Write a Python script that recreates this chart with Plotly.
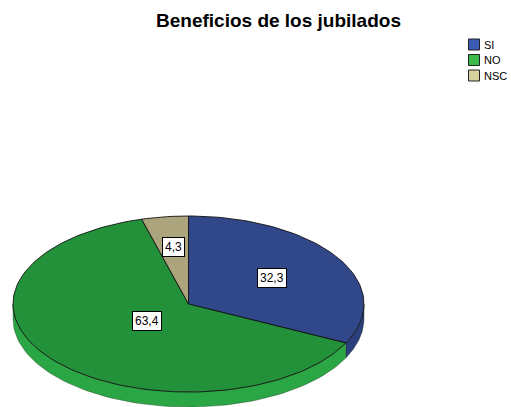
import numpy as np
import plotly.graph_objects as go

# ---- data ----
categories = ["SI", "NO", "NSC"]
values = [32.3, 63.4, 4.3]
value_labels = ["32,3", "63,4", "4,3"]

# ---- style ----
top_colors = ["#30478A", "#22913A", "#ABA47C"]
side_colors = ["#2A3E7C", "#2AA645", "#9C966F"]
legend_colors = ["#3B5BB5", "#3BBB4A", "#D6D29E"]
label_r = [0.56, 0.31, 0.65]

W, H = 511, 407
cx, cy = 188.5, 304.0
rx, ry = 175.5, 88.0
depth = 15.0

def pt(theta_deg, r=1.0, dy=0.0):
    t = np.radians(theta_deg)
    return cx + rx * r * np.sin(t), cy - ry * r * np.cos(t) + dy

total = float(sum(values))
fig = go.Figure()

starts = []
a = 0.0
for v in values:
    starts.append((a, a + 360.0 * v / total))
    a += 360.0 * v / total

# sides (visible front part: 90..270 deg clockwise from top)
for (s, e), col in zip(starts, side_colors):
    lo, hi = max(s, 90.0), min(e, 270.0)
    if lo < hi:
        th = np.linspace(lo, hi, 80)
        xt, yt = pt(th)
        xb, yb = pt(th[::-1], dy=depth)
        xs = np.concatenate([xt, xb, xt[:1]])
        ys = np.concatenate([yt, yb, yt[:1]])
        fig.add_trace(go.Scatter(x=xs, y=ys, fill="toself", fillcolor=col,
                                 mode="lines", line=dict(color="#1f3a20", width=0.4),
                                 hoverinfo="skip", showlegend=False))

# top faces
for (s, e), col, cat in zip(starts, top_colors, categories):
    n = max(4, int((e - s) / 1.5))
    th = np.linspace(s, e, n)
    xa, ya = pt(th)
    xs = np.concatenate([[cx], xa, [cx]])
    ys = np.concatenate([[cy], ya, [cy]])
    fig.add_trace(go.Scatter(x=xs, y=ys, fill="toself", fillcolor=col,
                             mode="lines", line=dict(color="#111111", width=0.9),
                             hoverinfo="skip", showlegend=False, name=cat))

# value labels
for (s, e), lab, f in zip(starts, value_labels, label_r):
    mx, my = pt((s + e) / 2.0, r=f)
    fig.add_annotation(x=mx, y=my, text=lab, showarrow=False,
                       font=dict(family="Liberation Sans, Arial", size=12, color="black"),
                       bgcolor="white", bordercolor="black", borderwidth=1, borderpad=2)

# legend (swatches + real text)
lx0, lx1 = 468.5, 479.5
row_y = [44.5, 60.0, 75.5]
for cat, col, yy in zip(categories, legend_colors, row_y):
    fig.add_shape(type="rect", xref="x", yref="y", x0=lx0, x1=lx1,
                  y0=yy - 5.5, y1=yy + 5.5, fillcolor=col,
                  line=dict(color="#222222", width=1))
    fig.add_annotation(x=lx1 + 2, y=yy, xref="x", yref="y", text=cat,
                       showarrow=False, xanchor="left", yanchor="middle",
                       font=dict(family="Liberation Sans, Arial", size=11, color="black"))

fig.update_layout(
    width=W, height=H,
    margin=dict(l=0, r=0, t=0, b=0),
    paper_bgcolor="white", plot_bgcolor="white",
    xaxis=dict(range=[0, W], visible=False, fixedrange=True),
    yaxis=dict(range=[H, 0], visible=False, fixedrange=True),
    title=dict(text="<b>Beneficios de los jubilados</b>", x=278.5 / W, xanchor="center",
               y=1 - 20.5 / H, yanchor="middle", yref="container",
               font=dict(family="Liberation Sans, Arial", size=19, color="black")),
    showlegend=False,
)

fig.write_html("out.html", config={"displayModeBar": False},
               post_script="document.body.style.margin='0';document.body.style.overflow='hidden';")
